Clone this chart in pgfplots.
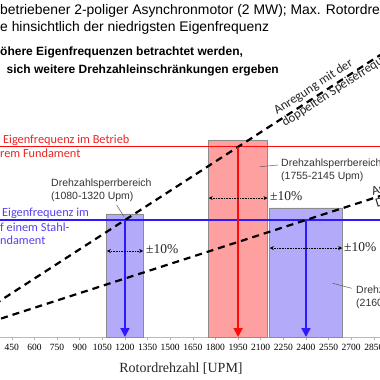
\documentclass[border=0pt]{standalone}
\usepackage{pgfplots}
\pgfplotsset{compat=1.18}
\usetikzlibrary{arrows.meta}
\usepackage{fontspec}
\setmainfont{Liberation Sans}
\newfontfamily\carlito{Carlito}
\newfontfamily\serif{Liberation Serif}
\definecolor{boxblue}{RGB}{180,170,250}
\definecolor{boxred}{RGB}{255,160,160}
\definecolor{lred}{RGB}{255,10,10}
\definecolor{lblue}{RGB}{45,25,255}
\definecolor{tred}{RGB}{235,35,35}
\definecolor{tblue}{RGB}{85,65,240}
\definecolor{boxedge}{RGB}{140,140,140}
\begin{document}
\begin{tikzpicture}[x=1pt,y=1pt]
\begin{axis}[
  at={(0pt,43pt)}, anchor=south west,
  scale only axis, width=380pt, height=337pt,
  xmin=371.3, xmax=2890.7, ymin=0, ymax=115.2,
  axis x line=bottom, axis y line=none,
  x axis line style={draw=gray!55, -},
  xtick={450,600,...,2850},
  tick align=outside, major tick length=3pt,
  tick style={gray!60, line width=0.6pt},
  xticklabel style={font=\serif\fontsize{9.5}{10}\selectfont, yshift=-1pt},
  /pgf/number format/assume math mode=true,
  /pgf/number format/1000 sep={},
]
% Drehzahlsperrbereiche
\addplot[fill=boxblue, draw=boxedge, line width=0.8pt] coordinates {(1080,0) (1080,42.05) (1320,42.05) (1320,0)} \closedcycle;
\addplot[fill=boxred, draw=boxedge, line width=0.8pt] coordinates {(1755,0) (1755,67.35) (2145,67.35) (2145,0)} \closedcycle;
\addplot[fill=boxblue, draw=boxedge, line width=0.8pt] coordinates {(2160,0) (2160,44.1) (2640,44.1) (2640,0)} \closedcycle;
% Eigenfrequenzen
\addplot[lred, line width=1.1pt] coordinates {(0,65) (3000,65)};
\addplot[lblue, line width=1.1pt] coordinates {(0,40) (3000,40)};
% Anregungen
\addplot[black, line width=2.2pt, dash pattern=on 7pt off 5pt] coordinates {(0,0) (3000,100)};
\addplot[black, line width=2.2pt, dash pattern=on 7pt off 5pt] coordinates {(0,0) (3000,50)};
% Pfeile
\addplot[lblue, line width=1.8pt, -{Triangle[width=9pt,length=9pt]}] coordinates {(1200,40) (1200,0)};
\addplot[lred, line width=1.8pt, -{Triangle[width=9pt,length=9pt]}] coordinates {(1950,65) (1950,0)};
\addplot[lblue, line width=1.8pt, -{Triangle[width=9pt,length=9pt]}] coordinates {(2400,40) (2400,0)};
% +-10%
\addplot[black, densely dotted, line width=0.6pt, {Stealth[length=4pt,width=4pt]}-{Stealth[length=4pt,width=4pt]}] coordinates {(1080,29.4) (1320,29.4)};
\addplot[black, densely dotted, line width=0.6pt, {Stealth[length=4pt,width=4pt]}-{Stealth[length=4pt,width=4pt]}] coordinates {(1755,47.5) (2145,47.5)};
\addplot[black, densely dotted, line width=0.6pt, {Stealth[length=4pt,width=4pt]}-{Stealth[length=4pt,width=4pt]}] coordinates {(2160,30.4) (2640,30.4)};
\end{axis}
% Titel
\node[anchor=base west, inner sep=0, font=\fontsize{13.9}{16}\selectfont] at (0,365) {\llap{Elektrisch }betriebener 2-poliger Asynchronmotor (2 MW); Max. Rotordrehzahl 3000 UPM};
\node[anchor=base west, inner sep=0, font=\fontsize{13.9}{16}\selectfont] at (0,348.3) {\llap{Bewertung der Fundament}e hinsichtlich der niedrigsten Eigenfrequenz};
\node[anchor=base west, inner sep=0, font=\bfseries\fontsize{12}{14}\selectfont] at (0,324.3) {\llap{Wenn h}öhere Eigenfrequenzen betrachtet werden,};
\node[anchor=base west, inner sep=0, font=\bfseries\fontsize{12}{14}\selectfont] at (6.5,306) {sich weitere Drehzahleinschränkungen ergeben};
% Eigenfrequenz-Beschriftungen
\node[anchor=base west, inner sep=0, text=tred, font=\carlito\fontsize{12.3}{14}\selectfont] at (3,236) {\llap{1. }Eigenfrequenz im Betrieb};
\node[anchor=base west, inner sep=0, text=tred, font=\carlito\fontsize{12.3}{14}\selectfont] at (0,222) {\llap{auf einem star}rem Fundament};
\node[anchor=base west, inner sep=0, text=tblue, font=\carlito\fontsize{12.3}{14}\selectfont] at (2,163) {\llap{1. }Eigenfrequenz im};
\node[anchor=base west, inner sep=0, text=tblue, font=\carlito\fontsize{12.3}{14}\selectfont] at (0,148) {\llap{Betrieb au}f einem Stahl-};
\node[anchor=base west, inner sep=0, text=tblue, font=\carlito\fontsize{12.3}{14}\selectfont] at (0,135) {\llap{fu}ndament};
% Sperrbereich-Beschriftungen
\begin{scope}[every node/.style={anchor=base west, inner sep=0, text=black!80, font=\fontsize{10.5}{12}\selectfont}]
\node at (51,193) {Drehzahlsperrbereich};
\node at (51,180) {(1080-1320 Upm)};
\node at (281,213) {Drehzahlsperrbereich};
\node at (281,200) {(1755-2145 Upm)};
\node at (356,86) {Drehzahlsperrbereich};
\node at (356,73) {(2160-2640 Upm)};
\end{scope}
\draw[black!65, line width=0.5pt] (116.7,175) -- (124,163.3);
\draw[black!65, line width=0.5pt] (260,213.3) -- (278,215);
\draw[black!65, line width=0.5pt] (332.7,96.7) -- (351.7,91.7);
% +-10% Texte
\begin{scope}[every node/.style={anchor=base west, inner sep=0, text=black!85, font=\serif\fontsize{13.5}{15}\selectfont}]
\node at (146,126) {±10\%};
\node at (270,179) {±10\%};
\node at (344,128) {±10\%};
\end{scope}
% Anregungs-Beschriftungen
\begin{scope}[every node/.style={anchor=base west, inner sep=0, text=black!85, font=\carlito\fontsize{12.8}{14}\selectfont}]
\node[rotate=33] at (277,265) {Anregung mit der};
\node[rotate=33] at (285,253) {doppelten Speisefrequenz};
\node[rotate=18] at (373,184) {Anregung mit der};
\node[rotate=18] at (377,172) {Drehfrequenz};
\end{scope}
% Achsentitel
\node[anchor=base, inner sep=0, font=\serif\fontsize{14}{16}\selectfont, text=black!85] at (181,8) {Rotordrehzahl [UPM]};
\pgfresetboundingbox
\path[use as bounding box] (0,0) rectangle (380,380);
\end{tikzpicture}
\end{document}
